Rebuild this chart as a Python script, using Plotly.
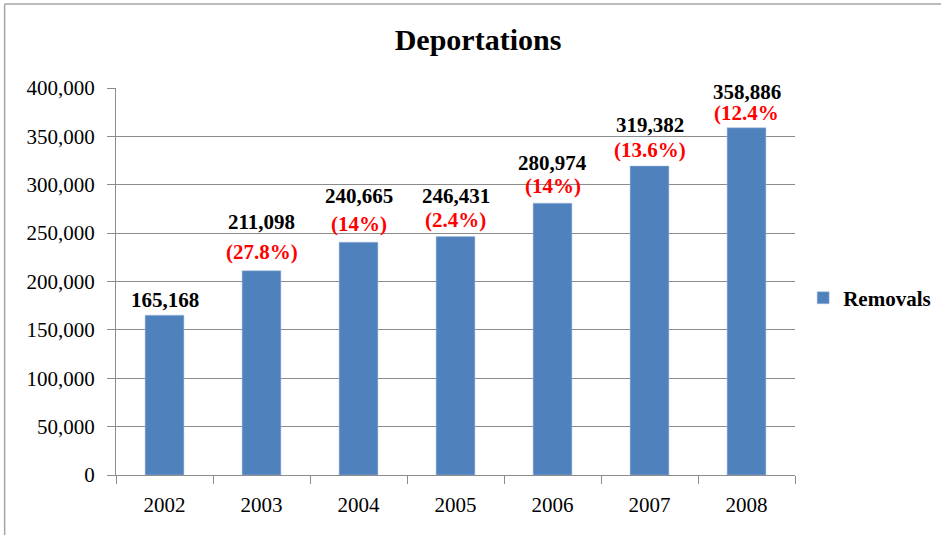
import plotly.graph_objects as go

years = ["2002", "2003", "2004", "2005", "2006", "2007", "2008"]
removals = [165168, 211098, 240665, 246431, 280974, 319382, 358886]
growth_labels = ["", "(27.8%)", "(14%)", "(2.4%)", "(14%)", "(13.6%)", "(12.4%"]
y_ticks = [0, 50000, 100000, 150000, 200000, 250000, 300000, 350000, 400000]

# label placement (pixels above bar top) - styling only
value_label_shift = [15, 49, 46, 41, 40, 41, 36]
growth_label_shift = [0, 19, 18, 17, 17, 16, 15]

FONT = "Liberation Serif"
GRID = "#8c8c8c"
LABEL_SIZE = 21

fig = go.Figure()
fig.add_trace(go.Bar(
    x=years, y=removals, name="<b>Removals</b>",
    marker=dict(color="#4F81BD", line=dict(color="#a7bfde", width=0.5)),
    width=0.4,
))

annotations = []
for i, (v, g) in enumerate(zip(removals, growth_labels)):
    annotations.append(dict(x=i, y=v, text="<b>{:,}</b>".format(v), showarrow=False,
                            yanchor="middle", yshift=value_label_shift[i],
                            font=dict(family=FONT, size=LABEL_SIZE, color="#000000")))
    if g:
        annotations.append(dict(x=i, y=v, text="<b>%s</b>" % g, showarrow=False,
                                yanchor="middle", yshift=growth_label_shift[i],
                                font=dict(family=FONT, size=LABEL_SIZE, color="#ff0000")))

fig.update_layout(
    width=941, height=535,
    margin=dict(l=116, r=146, t=88, b=60, autoexpand=False),
    paper_bgcolor="white", plot_bgcolor="white",
    title=dict(text="<b>Deportations</b>", x=0.508, xanchor="center", y=0.927, yanchor="middle",
               font=dict(family=FONT, size=30, color="black")),
    font=dict(family=FONT, size=21, color="black"),
    showlegend=True,
    legend=dict(x=1.012, y=0.457, xanchor="left", yanchor="middle",
                font=dict(family=FONT, size=21, color="black"),
                itemwidth=30, bgcolor="rgba(0,0,0,0)"),
    annotations=annotations,
)
fig.update_xaxes(
    type="category", categoryorder="array", categoryarray=years,
    range=[-0.5, len(years) - 0.5],
    tickson="boundaries", ticks="outside", ticklen=8, tickcolor=GRID,
    showline=True, linecolor=GRID, linewidth=1, showgrid=False,
    tickfont=dict(family=FONT, size=21), ticklabelstandoff=11, tickangle=0,
)
fig.update_yaxes(
    range=[0, 400000], tickvals=y_ticks, tickformat=",d",
    ticks="outside", ticklen=8, tickcolor=GRID,
    showline=True, linecolor=GRID, linewidth=1,
    showgrid=True, gridcolor=GRID, gridwidth=1, zeroline=False,
    tickfont=dict(family=FONT, size=21), ticklabelstandoff=8,
)

# outer chart frame (partially visible)
fig.add_shape(type="line", xref="paper", yref="paper", x0=-0.164, x1=-0.164, y0=-0.3, y1=1.217,
              line=dict(color="#a6a6a6", width=1.5))
fig.add_shape(type="line", xref="paper", yref="paper", x0=-0.164, x1=1.3, y0=1.217, y1=1.217,
              line=dict(color="#a6a6a6", width=1.5))

fig.write_html("out.html")
